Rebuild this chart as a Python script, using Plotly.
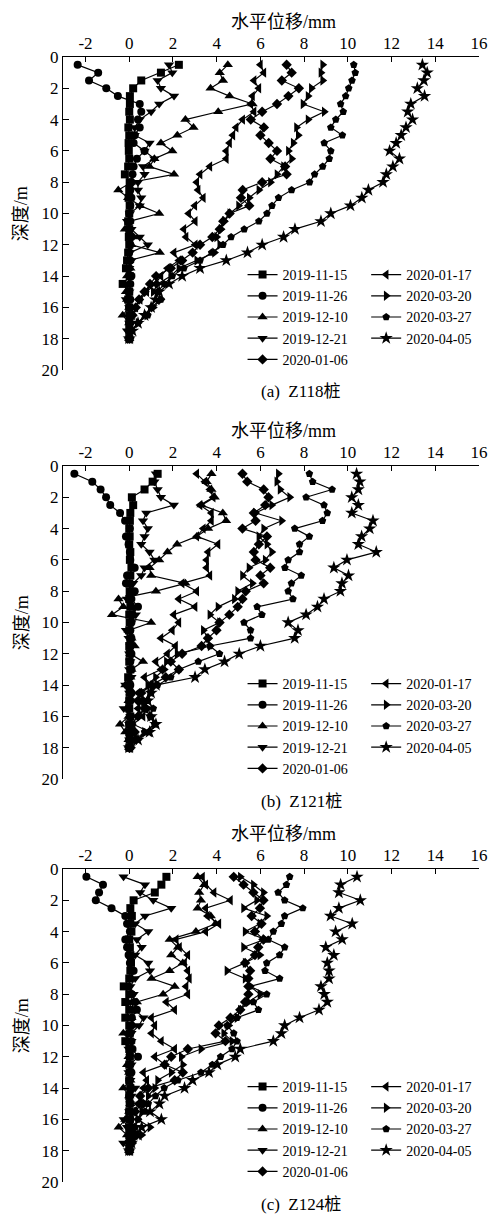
import plotly.graph_objects as go

# ---------------- data ----------------
depth = [0.5 * i for i in range(1, 37)]  # 0.5 .. 18.0 m

dates = ["2019-11-15", "2019-11-26", "2019-12-10", "2019-12-21", "2020-01-06",
         "2020-01-17", "2020-03-20", "2020-03-27", "2020-04-05"]
symbols = ["square", "circle", "triangle-up", "triangle-down", "diamond",
           "triangle-left", "triangle-right", "pentagon", "star"]

# Panel (a) Z118
a_1115 = [2.27, 1.45, 0.55, 0.18, 0.03, 0.03, 0.0, 0.03, -0.04, 0.0, -0.03, -0.02,
          0.0, -0.05, -0.2, 0.02, 0.0, -0.03, 0.02, 0.0, -0.05, 0.0, -0.02, 0.0,
          -0.05, -0.1, -0.15, 0.02, -0.3, 0.0, -0.05, 0.0, 0.02, 0.0, 0.0, 0.0]
a_1126 = [-2.36, -1.42, -1.84, -1.05, -0.52, 0.48, 0.55, 0.4, 0.48, 0.25, 0.2, 0.7,
          0.35, 0.2, 0.15, 0.1, 0.05, 0.1, 0.05, 0.0, 0.05, 0.0, 0.1, 0.05,
          0.0, 0.05, 0.0, 0.1, 0.05, 0.0, 0.05, 0.0, 0.0, 0.0, 0.05, 0.0]
a_1210 = [4.51, 4.14, 4.29, 3.72, 4.59, 5.64, 4.07, 2.57, 2.94, 2.2, 1.45, 1.97,
          1.15, 0.93, 2.05, 0.1, -0.5, -0.05, 0.5, 1.37, 0.0, -0.2, 0.2, 0.1,
          1.4, 0.0, 0.05, -0.1, 0.0, -0.15, -0.1, 0.0, -0.3, 0.0, 0.05, 0.0]
a_1221 = [1.82, 1.97, 1.3, 1.45, 2.05, 1.37, 1.0, 0.48, 0.25, 0.25, 0.93, 0.7,
          1.15, 0.63, 0.7, 0.4, 0.4, 0.55, 0.48, 0.03, -0.1, 0.1, 0.48, 0.85,
          0.03, 0.1, 0.0, 0.05, -0.1, 0.0, -0.15, 0.0, 0.05, 0.0, -0.1, 0.0]
a_0106 = [7.2, 7.43, 6.98, 7.76, 7.28, 6.76, 6.08, 5.56, 6.16, 6.0, 6.38, 6.76,
          6.46, 7.13, 7.2, 6.08, 5.19, 5.11, 5.49, 4.59, 4.3, 4.14, 3.8, 3.24,
          2.9, 2.42, 1.9, 1.23, 0.95, 0.7, 0.45, 0.3, 0.15, 0.05, 0.02, 0.0]
a_0117 = [6.0, 6.16, 5.71, 5.93, 5.64, 5.56, 5.71, 5.19, 4.89, 4.74, 4.59, 4.44,
          4.44, 3.69, 3.24, 3.09, 3.15, 3.39, 3.0, 2.72, 3.02, 2.5, 2.6, 3.02,
          2.05, 2.27, 1.75, 1.45, 1.2, 0.8, 0.5, 0.3, 0.15, 0.05, 0.0, 0.0]
a_0320 = [8.85, 8.77, 8.85, 8.33, 8.18, 7.95, 8.92, 8.18, 7.65, 7.73, 7.5, 7.28,
          7.43, 7.06, 6.76, 6.46, 5.93, 5.49, 5.0, 4.6, 4.35, 4.2, 4.0, 4.14,
          3.9, 3.09, 2.27, 1.9, 1.3, 1.1, 1.45, 1.1, 0.8, 0.4, 0.1, 0.0]
a_0327 = [10.27, 10.34, 10.19, 10.04, 9.9, 9.67, 9.79, 9.45, 9.22, 9.75, 8.92, 9.22,
          9.15, 8.85, 8.48, 8.25, 7.43, 6.83, 6.53, 6.3, 5.93, 5.26, 4.66, 4.29,
          3.77, 3.24, 2.5, 1.97, 1.6, 1.3, 1.45, 1.0, 0.85, 0.4, 0.1, 0.0]
a_0405 = [13.41, 13.63, 13.48, 13.18, 13.51, 12.88, 12.74, 12.96, 12.66, 12.44, 12.21, 11.91,
          12.36, 12.06, 11.76, 11.61, 10.94, 10.64, 10.12, 9.22, 8.77, 7.58, 7.06, 6.08,
          5.41, 4.44, 3.24, 2.42, 1.82, 1.37, 1.2, 1.0, 0.7, 0.4, 0.15, 0.0]

# Panel (b) Z121
b_1115 = [1.3, 1.07, 0.7, 0.12, 0.18, 0.05, 0.03, 0.0, 0.02, 0.0, 0.05, 0.03,
          0.1, 0.05, 0.0, 0.02, 0.0, 0.05, 0.0, 0.02, 0.0, 0.05, 0.0, 0.02,
          0.0, 0.05, -0.05, 0.0, 0.02, 0.0, 0.0, 0.05, 0.0, 0.0, 0.02, 0.0]
b_1126 = [-2.51, -1.69, -1.31, -1.06, -0.87, -0.42, -0.19, 0.03, -0.15, -0.03, 0.03, 0.05,
          0.25, -0.1, -0.15, 0.25, 0.1, 0.4, 0.15, 0.1, 0.05, 0.1, 0.05, 0.1,
          0.05, 0.1, 0.0, 0.05, 0.1, 0.05, 0.0, 0.05, 0.0, 0.05, 0.0, 0.0]
b_1210 = [3.76, 3.54, 3.76, 3.91, 3.31, 4.28, 4.43, 3.61, 3.09, 2.19, 1.75, 1.37,
          0.93, 1.0, 2.57, 1.22, -0.49, -0.27, -0.79, 1.0, -0.03, 0.1, 0.25, 0.05,
          0.63, 0.1, 0.05, -0.18, 0.05, -0.03, -0.1, -0.03, -0.42, -0.18, -0.03, 0.0]
b_1221 = [1.22, 1.15, 1.3, 1.45, 2.04, 0.78, 0.63, 0.85, 0.7, 0.55, 0.93, 1.15,
          0.7, 0.55, 0.18, 0.1, -0.1, 0.2, 0.3, 0.1, -0.15, -0.03, 0.05, 0.0,
          0.05, 0.0, 0.1, -0.18, 0.0, 0.05, -0.25, 0.05, 0.0, 0.1, 0.0, 0.0]
b_0106 = [5.18, 5.4, 6.15, 6.37, 6.22, 5.7, 5.78, 5.18, 6.3, 5.93, 5.7, 5.78,
          6.45, 6.0, 6.15, 5.33, 5.18, 4.96, 4.58, 4.13, 3.99, 3.6, 3.31, 2.42,
          1.9, 2.27, 1.67, 1.0, 0.55, 0.4, 0.7, 0.4, 0.1, 0.25, 0.1, 0.0]
b_0117 = [3.09, 3.46, 3.69, 3.84, 3.24, 3.76, 3.76, 3.39, 3.09, 4.06, 3.61, 3.54,
          3.54, 3.69, 2.42, 3.09, 2.27, 3.01, 2.04, 2.27, 1.97, 1.45, 2.12, 1.75,
          1.22, 1.45, 0.7, 1.0, 0.4, 0.55, 0.4, 0.63, 0.18, 0.93, 0.25, 0.0]
b_0320 = [6.82, 6.75, 6.9, 7.34, 6.52, 5.78, 6.97, 6.15, 5.93, 6.3, 6.52, 6.22,
          5.48, 5.18, 5.63, 4.96, 4.81, 4.06, 3.69, 4.13, 3.39, 3.6, 3.7, 2.19,
          1.7, 1.6, 1.2, 0.85, 0.93, 0.7, 0.85, 1.0, 1.16, 0.7, 0.4, 0.1]
b_0327 = [8.24, 8.39, 9.28, 8.09, 8.91, 9.06, 8.84, 7.57, 8.24, 7.79, 7.79, 7.27,
          7.12, 7.87, 7.42, 7.27, 7.49, 5.85, 6.07, 5.25, 5.55, 5.55, 3.69, 4.13,
          3.16, 2.27, 1.9, 1.3, 1.0, 0.85, 1.1, 0.95, 1.16, 0.7, 0.25, 0.0]
b_0405 = [10.4, 10.55, 10.48, 10.18, 10.48, 10.18, 11.15, 11.0, 10.63, 10.48, 11.3, 9.96,
          9.36, 10.03, 9.73, 9.66, 8.91, 8.61, 8.09, 7.27, 7.72, 7.57, 6.0, 5.03,
          4.36, 3.46, 3.01, 1.22, 1.0, 0.85, 0.7, 1.0, 1.22, 0.93, 0.4, 0.0]

# Panel (c) Z124
c_1115 = [1.7, 1.47, 1.17, 0.2, 0.05, 0.12, 0.05, 0.1, 0.0, 0.03, 0.05, 0.08,
          0.05, 0.0, -0.25, 0.0, -0.18, 0.0, -0.18, 0.0, 0.02, -0.18, 0.0, 0.03,
          0.0, 0.02, 0.0, 0.05, 0.0, 0.02, 0.0, 0.03, 0.0, 0.0, 0.02, 0.0]
c_1126 = [-1.96, -1.2, -1.38, -1.53, -0.81, -0.18, -0.1, 0.03, -0.18, -0.1, -0.03, 0.03,
          0.2, 0.03, -0.03, 0.12, 0.27, 0.35, 0.12, 0.1, 0.05, 0.1, 0.15, 0.4,
          0.05, 0.1, 0.0, 0.05, 0.0, 0.05, 0.0, 0.05, 0.0, 0.0, 0.05, 0.0]
c_1210 = [3.13, 3.43, 3.2, 3.28, 3.13, 3.73, 3.95, 3.05, 1.85, 2.23, 1.92, 2.45,
          1.85, 1.02, 2.08, 1.55, 0.35, 0.25, 0.1, 0.18, -0.27, 0.05, 0.1, -0.03,
          -0.1, 0.0, 0.05, -0.27, 0.0, 0.05, 0.0, -0.18, -0.48, -0.1, 0.05, 0.0]
c_1221 = [-0.26, 0.72, 0.5, 1.1, 1.92, 0.72, 0.27, 0.87, 0.35, 0.57, 0.27, 0.87,
          0.95, 0.27, 0.05, 0.2, 0.05, 0.27, 0.65, 0.45, 0.1, 0.1, -0.03, 0.05,
          0.1, -0.03, 0.05, 0.27, 0.1, 0.05, 0.0, -0.25, -0.1, 0.1, -0.27, 0.0]
c_0106 = [4.78, 5.23, 5.68, 6.14, 5.98, 5.6, 6.05, 5.75, 6.14, 5.9, 5.75, 5.3,
          5.53, 5.45, 5.45, 5.45, 5.3, 5.08, 4.63, 4.1, 3.95, 4.4, 2.68, 1.92,
          1.62, 2.45, 2.08, 0.87, 0.5, 0.57, 0.27, 0.05, 0.12, 0.27, 0.12, 0.0]
c_0117 = [3.35, 3.5, 3.88, 4.63, 3.5, 3.58, 4.1, 3.5, 2.15, 2.3, 2.68, 2.53,
          2.68, 2.75, 2.6, 2.68, 1.7, 2.08, 1.02, 1.17, 1.02, 1.47, 2.08, 1.17,
          1.62, 0.65, 0.8, 0.65, 0.5, 0.4, 0.27, 0.05, 0.2, 0.27, 0.12, 0.0]
c_0320 = [5.08, 5.68, 6.14, 5.83, 5.23, 6.29, 5.98, 5.3, 6.21, 5.23, 5.98, 5.3,
          4.47, 5.3, 5.53, 5.98, 5.45, 5.08, 4.93, 4.55, 4.32, 4.7, 3.28, 2.38,
          2.45, 1.92, 1.3, 1.17, 0.87, 0.72, 0.57, 0.4, 0.95, 0.57, 0.12, 0.0]
c_0327 = [7.34, 7.19, 6.81, 7.11, 7.94, 7.11, 6.96, 6.59, 6.36, 7.11, 6.88, 6.29,
          6.21, 6.88, 5.53, 6.29, 5.68, 5.91, 4.93, 4.48, 4.78, 4.93, 4.7, 4.18,
          3.8, 3.28, 2.23, 1.6, 1.2, 0.87, 0.72, 0.4, 0.27, 0.2, 0.1, 0.0]
c_0405 = [10.42, 9.67, 9.59, 10.57, 9.59, 9.21, 10.2, 9.44, 9.74, 8.99, 9.36, 9.06,
          9.14, 9.14, 8.77, 8.92, 9.06, 8.68, 7.79, 7.11, 6.96, 6.59, 5.08, 4.85,
          4.03, 3.65, 2.9, 2.53, 1.62, 1.38, 0.95, 1.47, 0.57, 0.4, 0.1, 0.0]

panels = [
    [a_1115, a_1126, a_1210, a_1221, a_0106, a_0117, a_0320, a_0327, a_0405],
    [b_1115, b_1126, b_1210, b_1221, b_0106, b_0117, b_0320, b_0327, b_0405],
    [c_1115, c_1126, c_1210, c_1221, c_0106, c_0117, c_0320, c_0327, c_0405],
]
captions = ["(a)  Z118桩", "(b)  Z121桩", "(c)  Z124桩"]
x_title = "水平位移/mm"
y_title = "深度/m"
x_tickvals = [-2, 0, 2, 4, 6, 8, 10, 12, 14, 16]
x_ticktext = ["-2", "0", "2", "4", "6", "8", "10", "12", "14", "16"]
y_tickvals = [0, 2, 4, 6, 8, 10, 12, 14, 16, 18, 20]

# ---------------- layout geometry ----------------
W, H = 500, 1216
ML, MR, MT, MB = 63, 13, 57, 34
PH = H - MT - MB
axis_top_px = [57, 466, 869]
panel_h_px = 313
legend_row1_px = [216, 216, 216]


def py(px):
    return 1 - (px - MT) / PH


def pxx(px):
    return (px - ML) / (W - ML - MR)


FONT = "'Liberation Serif', 'Times New Roman', 'Noto Sans CJK SC', serif"

fig = go.Figure()
layout = dict(
    width=W, height=H,
    margin=dict(l=ML, r=MR, t=MT, b=MB, pad=0),
    paper_bgcolor="white", plot_bgcolor="white",
    font=dict(family=FONT, size=17, color="black"),
    showlegend=True,
    annotations=[],
)

for p in range(3):
    sfx = "" if p == 0 else str(p + 1)
    xa, ya = "x" + sfx, "y" + sfx
    leg1 = "legend" if p == 0 else "legend" + str(2 * p + 1)
    leg2 = "legend" + str(2 * p + 2)
    for i, (name, sym) in enumerate(zip(dates, symbols)):
        size = 10 if sym == "star" else (9 if "triangle" in sym else 8)
        fig.add_trace(go.Scatter(
            x=panels[p][i], y=depth, name=name, mode="lines+markers",
            xaxis=xa, yaxis=ya,
            line=dict(color="black", width=1.2),
            marker=dict(symbol=sym, size=size, color="black"),
            legend=leg1 if i < 5 else leg2,
            showlegend=True,
        ))
    top = axis_top_px[p]
    bot = top + panel_h_px
    layout["xaxis" + sfx] = dict(
        domain=[0, 1], anchor=ya, side="top", range=[-3.03, 16],
        tickvals=x_tickvals, ticktext=x_ticktext,
        ticks="inside", ticklen=5, tickwidth=1, tickcolor="black",
        showline=True, linecolor="black", linewidth=1.2,
        showgrid=False, zeroline=False,
        tickfont=dict(family=FONT, size=17),
    )
    layout["yaxis" + sfx] = dict(
        domain=[py(bot), py(top)], anchor=xa, range=[20, 0],
        tickvals=y_tickvals,
        ticks="inside", ticklen=6, tickwidth=1, tickcolor="black",
        showline=True, linecolor="black", linewidth=1.2,
        showgrid=False, zeroline=False,
        tickfont=dict(family=FONT, size=17),
    )
    leg_top = top + legend_row1_px[p] - 14
    for key, xpx in ((leg1, 246), (leg2, 372)):
        layout[key] = dict(
            x=pxx(xpx), y=py(leg_top), xanchor="left", yanchor="top",
            xref="paper", yref="paper",
            bgcolor="rgba(0,0,0,0)", borderwidth=0,
            font=dict(family=FONT, size=14, color="black"),
            tracegroupgap=0, itemwidth=30, orientation="v",
        )
    # axis titles and caption
    layout["annotations"].append(dict(
        text=x_title, x=pxx(288), y=py(top - 35), xref="paper", yref="paper",
        showarrow=False, font=dict(family=FONT, size=18), xanchor="center", yanchor="middle"))
    layout["annotations"].append(dict(
        text=y_title, x=pxx(21), y=py(top + panel_h_px / 2), xref="paper", yref="paper",
        showarrow=False, textangle=-90, font=dict(family=FONT, size=18),
        xanchor="center", yanchor="middle"))
    layout["annotations"].append(dict(
        text=captions[p], x=pxx(306), y=py(top + panel_h_px + 22), xref="paper", yref="paper",
        showarrow=False, font=dict(family=FONT, size=17), xanchor="center", yanchor="middle"))

fig.update_layout(**layout)
fig.write_html("out.html")
